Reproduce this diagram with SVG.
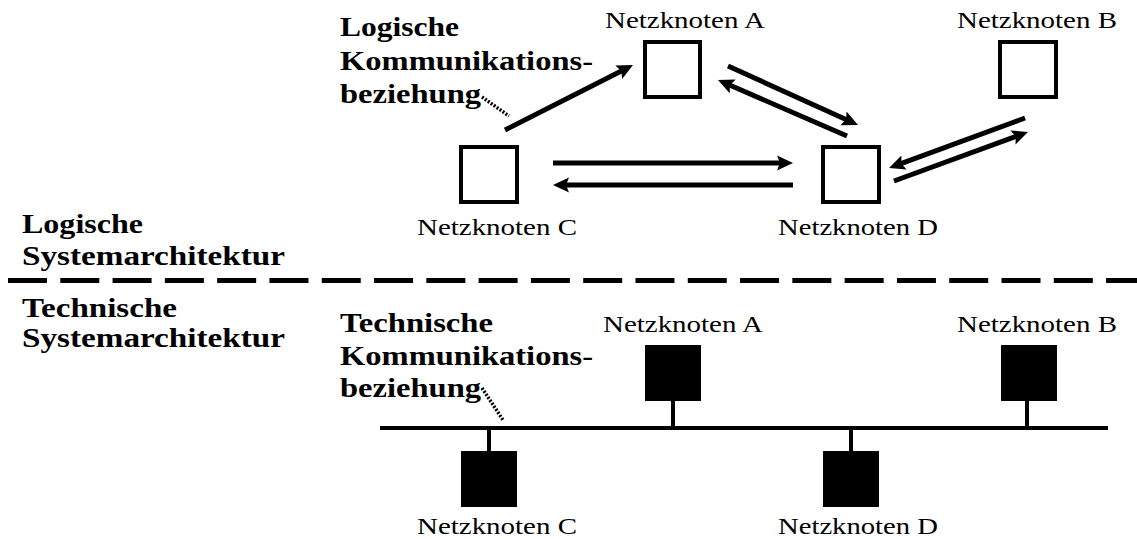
<svg xmlns="http://www.w3.org/2000/svg" width="1137" height="539" viewBox="0 0 1137 539">
  <style>
    text { font-family: "Liberation Serif", "Times New Roman", serif; fill: #000; }
    .lbl { font-size: 24px; text-anchor: middle; }
    .bold { font-size: 27px; font-weight: bold; }
    .box { fill: #fff; stroke: #000; stroke-width: 4; }
    .hw { fill: #000; }
    .arrow { stroke: #000; stroke-width: 5; fill: none; marker-end: url(#head); }
    .wire { stroke: #000; stroke-width: 4; fill: none; }
    .dots { stroke: #000; stroke-width: 3.5; stroke-dasharray: 2 1.6; fill: none; }
    .sep { stroke: #000; stroke-width: 5; stroke-dasharray: 39 13.29; fill: none; }
  </style>
  <defs>
    <marker id="head" markerUnits="userSpaceOnUse" markerWidth="17" markerHeight="16" refX="4" refY="7.5" orient="auto" viewBox="0 0 17 15">
      <path d="M0,0 L16,7.5 L0,15 L3,7.5 z" fill="#000"/>
    </marker>
  </defs>

  <rect width="1137" height="539" fill="#fff"/>

  <!-- layer captions and separator -->
  <g id="layers">
    <text class="bold" x="22" y="233" textLength="121" lengthAdjust="spacingAndGlyphs">Logische</text>
    <text class="bold" x="22" y="265" textLength="263" lengthAdjust="spacingAndGlyphs">Systemarchitektur</text>
    <line class="sep" x1="8" y1="280.5" x2="1137" y2="280.5"/>
    <text class="bold" x="22" y="317" textLength="155" lengthAdjust="spacingAndGlyphs">Technische</text>
    <text class="bold" x="22" y="347" textLength="263" lengthAdjust="spacingAndGlyphs">Systemarchitektur</text>
  </g>

  <!-- logical view: nodes -->
  <g id="log-a">
    <rect class="box" x="645" y="42" width="55" height="55"/>
    <text class="lbl" x="685" y="28" textLength="160" lengthAdjust="spacingAndGlyphs">Netzknoten A</text>
  </g>
  <g id="log-b">
    <rect class="box" x="1000" y="42" width="56" height="55"/>
    <text class="lbl" x="1037" y="28" textLength="160" lengthAdjust="spacingAndGlyphs">Netzknoten B</text>
  </g>
  <g id="log-c">
    <rect class="box" x="461" y="147" width="56" height="55"/>
    <text class="lbl" x="497" y="235" textLength="160" lengthAdjust="spacingAndGlyphs">Netzknoten C</text>
  </g>
  <g id="log-d">
    <rect class="box" x="823" y="147" width="56" height="55"/>
    <text class="lbl" x="858" y="235" textLength="160" lengthAdjust="spacingAndGlyphs">Netzknoten D</text>
  </g>

  <!-- logical view: caption for the communication relation -->
  <g id="log-caption">
    <text class="bold" x="340" y="36" textLength="119" lengthAdjust="spacingAndGlyphs">Logische</text>
    <text class="bold" x="340" y="70" textLength="253" lengthAdjust="spacingAndGlyphs">Kommunikations-</text>
    <text class="bold" x="340" y="103" textLength="141" lengthAdjust="spacingAndGlyphs">beziehung</text>
  </g>

  <!-- logical view: communication arrows -->
  <g id="log-links">
    <line class="arrow" x1="505" y1="130" x2="622.3" y2="70.5"/>
    <line class="arrow" x1="728" y1="66" x2="847.1" y2="120"/>
    <line class="arrow" x1="847" y1="136" x2="729" y2="84.8"/>
    <line class="arrow" x1="553" y1="163" x2="781" y2="163"/>
    <line class="arrow" x1="793" y1="185" x2="565" y2="185"/>
    <line class="arrow" x1="1025" y1="118" x2="900.3" y2="163.9"/>
    <line class="arrow" x1="894" y1="181" x2="1016.7" y2="136.1"/>
    <line class="dots" x1="482" y1="97" x2="509" y2="116"/>
  </g>

  <!-- technical view: bus -->
  <g id="bus">
    <line class="wire" x1="380" y1="428" x2="1108" y2="428"/>
    <line class="wire" x1="673" y1="401" x2="673" y2="428"/>
    <line class="wire" x1="1027" y1="401" x2="1027" y2="428"/>
    <line class="wire" x1="489" y1="428" x2="489" y2="451"/>
    <line class="wire" x1="851" y1="428" x2="851" y2="451"/>
    <line class="dots" x1="482" y1="388" x2="503" y2="420"/>
  </g>

  <!-- technical view: nodes -->
  <g id="tech-a">
    <rect class="hw" x="645" y="345" width="56" height="56"/>
    <text class="lbl" x="683" y="332" textLength="160" lengthAdjust="spacingAndGlyphs">Netzknoten A</text>
  </g>
  <g id="tech-b">
    <rect class="hw" x="1001" y="345" width="56" height="56"/>
    <text class="lbl" x="1037" y="332" textLength="160" lengthAdjust="spacingAndGlyphs">Netzknoten B</text>
  </g>
  <g id="tech-c">
    <rect class="hw" x="461" y="451" width="56" height="56"/>
    <text class="lbl" x="497" y="534" textLength="160" lengthAdjust="spacingAndGlyphs">Netzknoten C</text>
  </g>
  <g id="tech-d">
    <rect class="hw" x="823" y="451" width="56" height="56"/>
    <text class="lbl" x="858" y="534" textLength="160" lengthAdjust="spacingAndGlyphs">Netzknoten D</text>
  </g>

  <!-- technical view: caption for the communication relation -->
  <g id="tech-caption">
    <text class="bold" x="340" y="332" textLength="153" lengthAdjust="spacingAndGlyphs">Technische</text>
    <text class="bold" x="340" y="365" textLength="253" lengthAdjust="spacingAndGlyphs">Kommunikations-</text>
    <text class="bold" x="340" y="397" textLength="141" lengthAdjust="spacingAndGlyphs">beziehung</text>
  </g>
</svg>
